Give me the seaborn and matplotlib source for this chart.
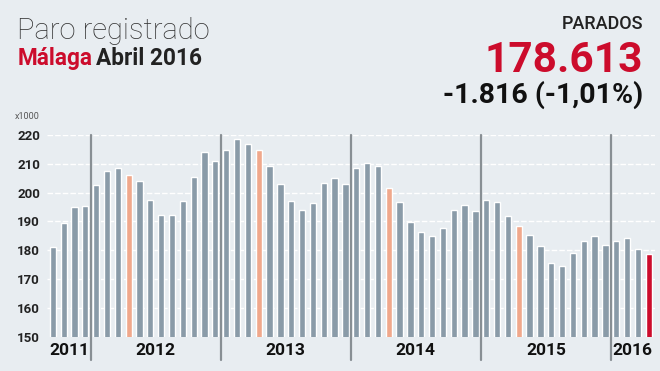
import matplotlib
matplotlib.use("Agg")
import matplotlib.pyplot as plt
import matplotlib.transforms as mtransforms
import seaborn as sns

# Paro registrado en Málaga, miles de personas (sep 2011 - abr 2016)
months = (["Sep", "Oct", "Nov", "Dic"]
          + ["Ene", "Feb", "Mar", "Abr", "May", "Jun", "Jul", "Ago", "Sep", "Oct", "Nov", "Dic"] * 4
          + ["Ene", "Feb", "Mar", "Abr"])
years = [2011] * 4 + [2012] * 12 + [2013] * 12 + [2014] * 12 + [2015] * 12 + [2016] * 4
paro = [181.1, 189.5, 195.0, 195.3,
        202.7, 207.5, 208.6, 206.1, 204.0, 197.3, 192.2, 192.2, 197.1, 205.4, 214.2, 211.0,
        214.7, 218.6, 217.0, 214.9, 209.2, 202.9, 197.1, 193.9, 196.4, 203.3, 205.0, 202.9,
        208.4, 210.3, 209.4, 201.7, 196.7, 189.9, 186.2, 184.8, 187.6, 193.9, 195.7, 193.7,
        197.3, 196.9, 192.0, 188.5, 185.3, 181.6, 175.6, 174.6, 179.0, 183.2, 185.1, 181.9,
        183.2, 184.1, 180.6, 178.613]
year_labels = ["2011", "2012", "2013", "2014", "2015", "2016"]

BG = "#e8edf1"
GRAY = "#8a9ba8"
ORANGE = "#f0a88c"
RED = "#cc0c2c"
DARK = "#222222"

sns.set_style("white", {"axes.facecolor": BG, "figure.facecolor": BG})
plt.rcParams["font.family"] = ["Roboto", "DejaVu Sans"]

colors = []
for i, m in enumerate(months):
    if i == len(months) - 1:
        colors.append(RED)
    elif m == "Abr":
        colors.append(ORANGE)
    else:
        colors.append(GRAY)

idx = list(range(len(paro)))
fig = plt.figure(figsize=(6.6, 3.71), dpi=100)
ax = fig.add_axes([0.071, 0.0925, 0.921, 0.5437])
sns.barplot(x=idx, y=paro, hue=idx, palette=colors, legend=False,
            width=0.58, saturation=1, ax=ax, zorder=2)

ax.set_ylim(150, 220)
ax.set_xlim(-0.55, len(paro) - 0.45)
ax.set_yticks(range(150, 221, 10))
ax.set_yticklabels([str(v) for v in range(150, 221, 10)],
                   fontsize=9.5, fontweight="bold", color=DARK)
ax.set_xticks([])
ax.set_xlabel("")
ax.tick_params(axis="y", length=0, pad=5)
for s in ax.spines.values():
    s.set_visible(False)
for v in range(160, 221, 10):
    ax.axhline(v, color="white", lw=1, ls=(0, (4, 1.5)), zorder=1)

# separadores de año y etiquetas
trans = mtransforms.blended_transform_factory(ax.transData, ax.transAxes)
starts = [i for i in range(1, len(years)) if years[i] != years[i - 1]]
for s in starts:
    ax.plot([s - 0.5, s - 0.5], [-0.115, 1.0], transform=trans, color="#888f94",
            lw=1.6, clip_on=False, zorder=3)
bounds = [0] + starts + [len(years)]
for k, lab in enumerate(year_labels):
    xc = (bounds[k] + bounds[k + 1] - 1) / 2
    ax.text(xc, -0.09, lab, transform=trans, ha="center", va="baseline",
            fontsize=12.5, fontweight="bold", color="#111111")

# cabecera
fig.text(0.026, 0.895, "Paro registrado", fontsize=21, color="#333333",
         fontweight="light", va="baseline", ha="left")
t1 = fig.text(0.026, 0.825, "Málaga", fontsize=16.3, color=RED, fontweight="bold",
              va="baseline", ha="left")
fig.canvas.draw()
bb = t1.get_window_extent()
fig.text(bb.x1 / fig.bbox.width + 0.006, 0.825, "Abril 2016", fontsize=16.3,
         color=DARK, fontweight="bold", va="baseline", ha="left")
fig.text(0.023, 0.685, "x1000", fontsize=6.5, color="#555555", va="center", ha="left")

fig.text(0.974, 0.922, "PARADOS", fontsize=13, color=DARK, fontweight="medium",
         va="baseline", ha="right")
fig.text(0.974, 0.805, "178.613", fontsize=30.5, color=RED, fontweight="bold",
         va="baseline", ha="right")
fig.text(0.974, 0.722, "-1.816 (-1,01%)", fontsize=20.5, color="#111111",
         fontweight="bold", va="baseline", ha="right")

fig.savefig("out.png", dpi=100, facecolor=BG)
